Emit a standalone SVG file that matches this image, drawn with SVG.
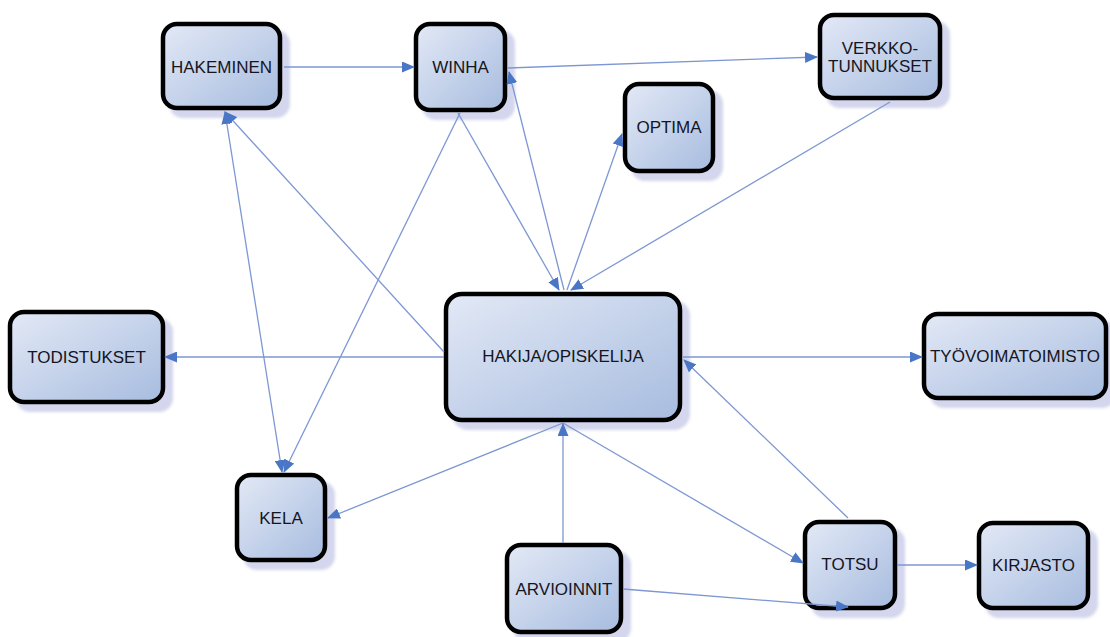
<svg xmlns="http://www.w3.org/2000/svg" width="1110" height="637" viewBox="0 0 1110 637">
<defs>
<linearGradient id="fill" x1="0" y1="0" x2="1" y2="1">
<stop offset="0" stop-color="#e3e9f6"/>
<stop offset="1" stop-color="#a7bcdf"/>
</linearGradient>
<filter id="blur" x="-10%" y="-10%" width="120%" height="120%">
<feGaussianBlur stdDeviation="1.5"/>
</filter>
<marker id="arr" markerUnits="userSpaceOnUse" markerWidth="14" markerHeight="11" refX="12" refY="5.5" orient="auto-start-reverse">
<path d="M0,0 L13,5.5 L0,11 z" fill="#4a76c6"/>
</marker>
</defs>
<style>
.sh{fill:#d3d6ec;filter:url(#blur)}
.bx{fill:url(#fill);stroke:#000;stroke-width:4.5}
.lb{font-family:"Liberation Sans",Arial,sans-serif;font-size:17px;fill:#15151f;text-anchor:middle;dominant-baseline:central}
.c{stroke:#7d97d3;stroke-width:1.3;fill:none;marker-end:url(#arr)}
</style>
<rect width="1110" height="637" fill="#fff"/>
<g id="n-hakeminen">
<rect class="sh" x="169" y="30" width="121" height="88" rx="14"/>
<rect class="bx" x="163" y="24" width="117" height="84" rx="14"/>
<text class="lb" x="221.5" y="67">HAKEMINEN</text>
</g>
<g id="n-winha">
<rect class="sh" x="422" y="30" width="93" height="90" rx="14"/>
<rect class="bx" x="416" y="24" width="89" height="86" rx="14"/>
<text class="lb" x="460.5" y="67">WINHA</text>
</g>
<g id="n-optima">
<rect class="sh" x="631" y="90" width="92" height="91" rx="14"/>
<rect class="bx" x="625" y="84" width="88" height="87" rx="14"/>
<text class="lb" x="669" y="127.5">OPTIMA</text>
</g>
<g id="n-verkkotunnukset">
<rect class="sh" x="826" y="21" width="124" height="87" rx="14"/>
<rect class="bx" x="820" y="15" width="120" height="83" rx="14"/>
<text class="lb" x="880" y="48">VERKKO-</text>
<text class="lb" x="880" y="66">TUNNUKSET</text>
</g>
<g id="n-hakija">
<rect class="sh" x="452" y="300" width="238" height="130" rx="16"/>
<rect class="bx" x="446" y="294" width="234" height="126" rx="16"/>
<text class="lb" x="563" y="356">HAKIJA/OPISKELIJA</text>
</g>
<g id="n-todistukset">
<rect class="sh" x="16" y="318" width="157" height="94" rx="14"/>
<rect class="bx" x="10" y="312" width="153" height="90" rx="14"/>
<text class="lb" x="86.5" y="357">TODISTUKSET</text>
</g>
<g id="n-tyovoimatoimisto">
<rect class="sh" x="930" y="320" width="186" height="88" rx="14"/>
<rect class="bx" x="924" y="314" width="182" height="84" rx="14"/>
<text class="lb" x="1015" y="356">TYÖVOIMATOIMISTO</text>
</g>
<g id="n-kela">
<rect class="sh" x="243" y="481" width="92" height="89" rx="14"/>
<rect class="bx" x="237" y="475" width="88" height="85" rx="14"/>
<text class="lb" x="281" y="518">KELA</text>
</g>
<g id="n-arvioinnit">
<rect class="sh" x="513" y="551" width="118" height="91" rx="14"/>
<rect class="bx" x="507" y="545" width="114" height="87" rx="14"/>
<text class="lb" x="564" y="589">ARVIOINNIT</text>
</g>
<g id="n-totsu">
<rect class="sh" x="811" y="528" width="94" height="90" rx="14"/>
<rect class="bx" x="805" y="522" width="90" height="86" rx="14"/>
<text class="lb" x="850" y="564">TOTSU</text>
</g>
<g id="n-kirjasto">
<rect class="sh" x="985" y="529" width="113" height="89" rx="14"/>
<rect class="bx" x="979" y="523" width="109" height="85" rx="14"/>
<text class="lb" x="1033.5" y="565">KIRJASTO</text>
</g>
<g id="connectors">
<line class="c" x1="284" y1="67" x2="414" y2="67"/>
<line class="c" x1="508" y1="68" x2="817" y2="57"/>
<line class="c" x1="458" y1="113" x2="559" y2="290"/>
<line class="c" x1="564" y1="290" x2="509" y2="72"/>
<line class="c" x1="567" y1="290" x2="622" y2="134"/>
<line class="c" x1="890" y1="102" x2="571" y2="290"/>
<line class="c" x1="444" y1="352" x2="225" y2="112"/>
<line class="c" x1="225" y1="112" x2="282" y2="472" style="marker-start:url(#arr)"/>
<line class="c" x1="460" y1="113" x2="284" y2="472"/>
<line class="c" x1="444" y1="357" x2="165" y2="357"/>
<line class="c" x1="683" y1="357" x2="922" y2="357"/>
<line class="c" x1="848" y1="518" x2="684" y2="360"/>
<line class="c" x1="563" y1="423" x2="803" y2="563"/>
<line class="c" x1="563" y1="423" x2="328" y2="518"/>
<line class="c" x1="563" y1="543" x2="563" y2="424"/>
<line class="c" x1="623" y1="589" x2="848" y2="607"/>
<line class="c" x1="897" y1="565" x2="977" y2="565"/>
</g>
</svg>
